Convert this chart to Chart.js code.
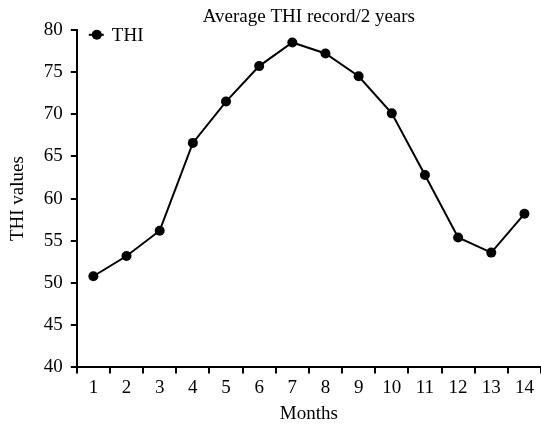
<!DOCTYPE html>
<html>
<head>
<meta charset="utf-8">
<script src="https://cdn.jsdelivr.net/npm/chart.js@4"></script>
<style>
  body { margin: 0; background: #fff; }
  #wrap { width: 541px; height: 427px; }
</style>
</head>
<body>
<div id="wrap"><canvas id="thiChart" width="541" height="427"></canvas></div>
<script>
// THI values per month over 2 years
const months = ['1', '2', '3', '4', '5', '6', '7', '8', '9', '10', '11', '12', '13', '14'];
const thiValues = [50.8, 53.2, 56.2, 66.6, 71.5, 75.7, 78.5, 77.2, 74.5, 70.1, 62.8, 55.4, 53.6, 58.2];
const yTicks = [40, 45, 50, 55, 60, 65, 70, 75, 80];

const serif = '"Liberation Serif", "Times New Roman", serif';
const fontSize = 19;

// small legend drawn inside the plot, top-left
const insideLegend = {
    id: 'insideLegend',
    afterDraw(chart) {
        const ctx = chart.ctx;
        const x = chart.chartArea.left + 12;
        const y = chart.chartArea.top + 5;
        ctx.save();
        ctx.strokeStyle = '#000';
        ctx.lineWidth = 2;
        ctx.beginPath();
        ctx.moveTo(x, y);
        ctx.lineTo(x + 15, y);
        ctx.stroke();
        ctx.fillStyle = '#000';
        ctx.beginPath();
        ctx.arc(x + 8, y, 5, 0, Math.PI * 2);
        ctx.fill();
        ctx.font = fontSize + 'px ' + serif;
        ctx.textBaseline = 'middle';
        ctx.fillText('THI', x + 23, y + 1);
        ctx.restore();
    }
};

const ctx = document.getElementById('thiChart').getContext('2d');
new Chart(ctx, {
    type: 'line',
    data: {
        labels: months,
        datasets: [{
            label: 'THI',
            data: thiValues,
            borderColor: '#000',
            backgroundColor: '#000',
            borderWidth: 2,
            pointRadius: 5,
            pointBackgroundColor: '#000',
            pointBorderWidth: 0,
            tension: 0,
            clip: false
        }]
    },
    options: {
        responsive: false,
        animation: false,
        layout: { autoPadding: false, padding: { left: 7, right: 0, top: 0, bottom: 2 } },
        plugins: {
            legend: { display: false },
            tooltip: { enabled: false },
            title: {
                display: true,
                text: 'Average THI record/2 years',
                fullSize: false,
                color: '#000',
                font: { family: serif, size: fontSize, weight: 'normal' },
                padding: { top: 6, bottom: 1 }
            }
        },
        scales: {
            x: {
                offset: true,
                grid: { offset: true, drawOnChartArea: false, drawTicks: true, tickLength: 6, color: '#000', lineWidth: 2 },
                border: { display: true, color: '#000', width: 2 },
                ticks: { color: '#000', font: { family: serif, size: fontSize }, padding: 3, maxRotation: 0 },
                title: { display: true, text: 'Months', color: '#000', font: { family: serif, size: fontSize }, padding: { top: 0, bottom: 0 } }
            },
            y: {
                min: 40,
                max: 80,
                afterBuildTicks: (axis) => { axis.ticks = yTicks.map(v => ({ value: v })); },
                grid: { drawOnChartArea: false, drawTicks: true, tickLength: 6, color: '#000', lineWidth: 2 },
                border: { display: true, color: '#000', width: 2 },
                ticks: { color: '#000', font: { family: serif, size: fontSize }, padding: 8 },
                title: { display: true, text: 'THI values', color: '#000', font: { family: serif, size: fontSize }, padding: { top: 0, bottom: 6 } }
            }
        }
    },
    plugins: [insideLegend]
});
</script>
</body>
</html>
